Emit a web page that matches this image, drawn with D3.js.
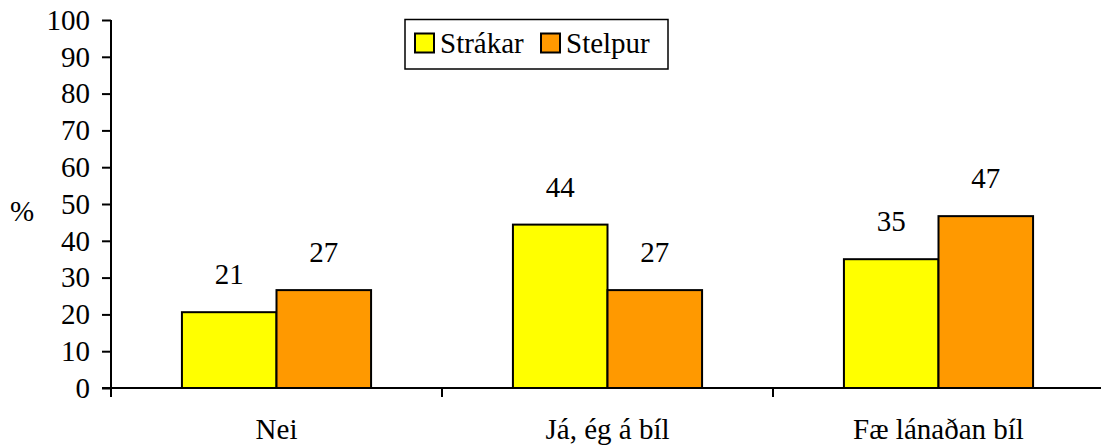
<!DOCTYPE html>
<html>
<head>
<meta charset="utf-8">
<script src="https://cdn.jsdelivr.net/npm/d3@7"></script>
</head>
<body style="margin:0">
<svg id="chart" width="1101" height="448"></svg>
<script>
const categories = ["Nei", "Já, ég á bíl", "Fæ lánaðan bíl"];
const seriesNames = ["Strákar", "Stelpur"];
const strakar = [20.6, 44.4, 35.0];
const stelpur = [26.6, 26.6, 46.7];
const strakarLabels = ["21", "44", "35"];
const stelpurLabels = ["27", "27", "47"];
const yTicks = [0, 10, 20, 30, 40, 50, 60, 70, 80, 90, 100];
const colors = ["#FFFF00", "#FF9900"];

const FONT = "Liberation Serif";
const FS = 29;

const svg = d3.select("#chart");

const x = d3.scaleBand().domain(categories).range([111, 1104]).paddingInner(0).paddingOuter(0);
const xs = d3.scaleBand().domain(seriesNames).range([0, x.bandwidth()]).paddingInner(0).paddingOuter(0.75);
const y = d3.scaleLinear().domain([0, 100]).range([388, 20]);

function styleText(sel) {
  return sel.attr("font-family", FONT).attr("font-size", FS)
    .style("font-family", `"${FONT}"`).style("font-size", FS + "px").attr("fill", "#000");
}

const data = categories.map((c, i) => ({
  cat: c,
  vals: [
    { s: seriesNames[0], v: strakar[i], label: strakarLabels[i], color: colors[0] },
    { s: seriesNames[1], v: stelpur[i], label: stelpurLabels[i], color: colors[1] }
  ]
}));

// bars
const groups = svg.selectAll("g.grp").data(data).enter().append("g")
  .attr("class", "grp")
  .attr("transform", d => `translate(${x(d.cat)},0)`);

groups.selectAll("rect").data(d => d.vals).enter().append("rect")
  .attr("x", d => xs(d.s))
  .attr("width", xs.bandwidth())
  .attr("y", d => y(d.v))
  .attr("height", d => y(0) - y(d.v))
  .attr("fill", d => d.color)
  .attr("stroke", "#000")
  .attr("stroke-width", 2);

groups.selectAll("text.val").data(d => d.vals).enter().append("text")
  .attr("class", "val")
  .attr("x", d => xs(d.s) + xs.bandwidth() / 2)
  .attr("y", d => y(d.v) - 28)
  .attr("text-anchor", "middle")
  .call(styleText)
  .text(d => d.label);

// y axis
const yAxis = d3.axisLeft(y).tickValues(yTicks).tickSize(9).tickPadding(12).tickFormat(d3.format("d"));
const yg = svg.append("g").attr("transform", "translate(111,0)").call(yAxis);
yg.attr("font-family", FONT).attr("font-size", FS);
yg.select(".domain").attr("stroke", "#000").attr("stroke-width", 2).attr("d", `M0,${y(100)}V${y(0)}`);
yg.selectAll(".tick line").attr("stroke", "#000").attr("stroke-width", 2);
yg.selectAll(".tick text").call(styleText);

// x axis
const bounds = categories.map(c => x(c)).concat([x.range()[1]]);
const xg = svg.append("g");
xg.append("line").attr("x1", 102).attr("x2", 1101).attr("y1", y(0)).attr("y2", y(0))
  .attr("stroke", "#000").attr("stroke-width", 2);
xg.selectAll("line.xt").data(bounds).enter().append("line")
  .attr("class", "xt")
  .attr("x1", d => d).attr("x2", d => d)
  .attr("y1", y(0)).attr("y2", y(0) + 9)
  .attr("stroke", "#000").attr("stroke-width", 2);
xg.selectAll("text.cat").data(categories).enter().append("text")
  .attr("class", "cat")
  .attr("x", d => x(d) + x.bandwidth() / 2)
  .attr("y", 439)
  .attr("text-anchor", "middle")
  .call(styleText)
  .text(d => d);

// y label
svg.append("text").attr("x", 22).attr("y", 221).attr("text-anchor", "middle")
  .call(styleText).text("%");

// legend
const lg = svg.append("g");
lg.append("rect").attr("x", 405).attr("y", 19.5).attr("width", 263).attr("height", 49.5)
  .attr("fill", "#fff").attr("stroke", "#000").attr("stroke-width", 1.5);
const legX = [415, 541];
seriesNames.forEach((s, i) => {
  lg.append("rect").attr("x", legX[i]).attr("y", 33.5).attr("width", 19).attr("height", 19)
    .attr("fill", colors[i]).attr("stroke", "#000").attr("stroke-width", 2);
  lg.append("text").attr("x", legX[i] + 25).attr("y", 53).call(styleText).text(s);
});
</script>
</body>
</html>
